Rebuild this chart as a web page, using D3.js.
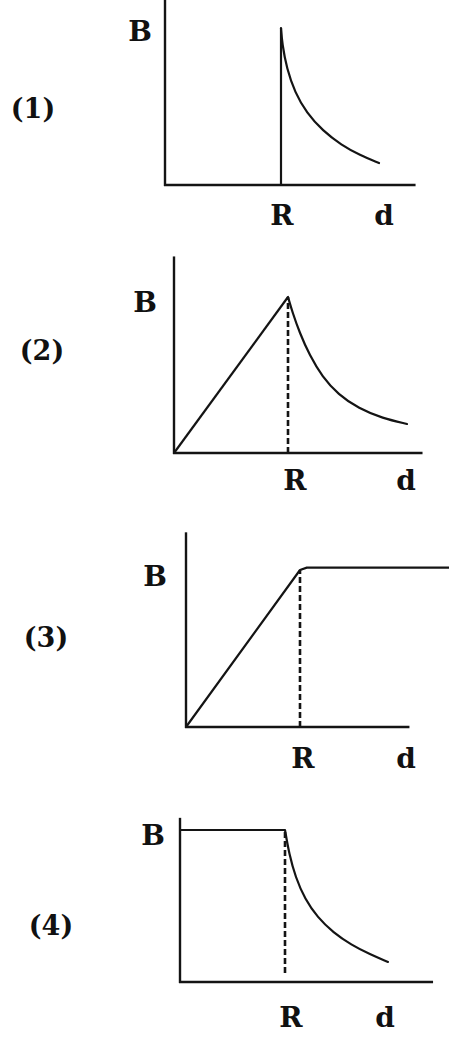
<!DOCTYPE html>
<html>
<head>
<meta charset="utf-8">
<script src="https://cdn.jsdelivr.net/npm/d3@7"></script>
<style>
  html, body { margin: 0; padding: 0; background: #fff; }
  svg { display: block; }
  text { font-family: "DejaVu Serif", "Liberation Serif", serif; font-weight: bold; fill: #111; }
</style>
</head>
<body>
<svg id="chart" width="449" height="1041"></svg>
<script>
// ---- data (d in units of R, B in units of the peak field) ----
const panelLabels = ["(1)", "(2)", "(3)", "(4)"];
const axisLabelY = "B";
const tickLabelR = "R";
const axisLabelX = "d";

// panel 1: zero inside, jump at R, decreasing outside
const p1Curve = [[1,1.0],[1.01,0.90],[1.05,0.74],[1.12,0.59],[1.22,0.46],[1.36,0.345],[1.52,0.255],[1.68,0.19],[1.845,0.140]];
const p1Jump = [[1,0],[1,1]];

// panel 2: linear rise, then decay
const p2Rise = [[0,0],[1,1]];
const p2Curve = [[1,1.0],[1.04,0.90],[1.10,0.775],[1.19,0.625],[1.30,0.49],[1.44,0.375],[1.62,0.285],[1.83,0.222],[2.044,0.186]];
const p2Guide = [[1,0],[1,1]];

// panel 3: linear rise, then constant
const p3Line = [[0,0],[1,1],[1.06,1.015],[2.4,1.015]];
const p3Guide = [[1,0],[1,1]];

// panel 4: constant inside, decay outside
const p4Flat = [[0,1],[1,1]];
const p4Curve = [[1,1.0],[1.04,0.84],[1.10,0.69],[1.19,0.545],[1.31,0.425],[1.46,0.325],[1.63,0.245],[1.81,0.182],[1.981,0.132]];
const p4Guide = [[1,0.06],[1,1]];

// ---- layout (pixels) ----
const layouts = [
  { ox:165, oy:185, pxR:116, pyB:157, xEnd:2.16, yTop:1.18,
    num:[33,108], bLab:[140,31], rDx:1, lab:[215], dX:384 },
  { ox:174, oy:453, pxR:114, pyB:156, xEnd:2.18, yTop:1.26,
    num:[42,350], bLab:[145,302], rDx:7, lab:[480], dX:406 },
  { ox:186, oy:727, pxR:114, pyB:157, xEnd:1.96, yTop:1.24,
    num:[46,637], bLab:[155,576], rDx:3, lab:[758], dX:406 },
  { ox:180, oy:982, pxR:105, pyB:152, xEnd:2.41, yTop:1.08,
    num:[51,925], bLab:[153,835], rDx:6, lab:[1017], dX:385 }
];

const panels = [
  { solid:[p1Jump], curves:[p1Curve], dashed:[] },
  { solid:[p2Rise], curves:[p2Curve], dashed:[p2Guide] },
  { solid:[p3Line], curves:[], dashed:[p3Guide] },
  { solid:[p4Flat], curves:[p4Curve], dashed:[p4Guide] }
];

const svg = d3.select("#chart");
const ink = "#141414";

panels.forEach((p, i) => {
  const L = layouts[i];
  const x = d3.scaleLinear().domain([0, 1]).range([L.ox, L.ox + L.pxR]);
  const y = d3.scaleLinear().domain([0, 1]).range([L.oy, L.oy - L.pyB]);
  const g = svg.append("g");

  const straight = d3.line().x(d => x(d[0])).y(d => y(d[1]));
  const smooth = d3.line().x(d => x(d[0])).y(d => y(d[1])).curve(d3.curveBasis);

  // axes
  g.append("line").attr("x1", x(0)).attr("x2", x(0))
    .attr("y1", y(0) + 1).attr("y2", y(L.yTop))
    .attr("stroke", ink).attr("stroke-width", 2.4);
  g.append("line").attr("x1", x(0) - 1).attr("x2", x(L.xEnd))
    .attr("y1", y(0)).attr("y2", y(0))
    .attr("stroke", ink).attr("stroke-width", 2.6);

  p.solid.forEach(s => g.append("path").attr("d", straight(s))
    .attr("fill", "none").attr("stroke", ink).attr("stroke-width", 2.2)
    .attr("stroke-linejoin", "round"));
  p.curves.forEach(s => g.append("path").attr("d", smooth(s))
    .attr("fill", "none").attr("stroke", ink).attr("stroke-width", 2.2)
    .attr("stroke-linecap", "round"));
  p.dashed.forEach(s => g.append("path").attr("d", straight(s))
    .attr("fill", "none").attr("stroke", ink).attr("stroke-width", 2.6)
    .attr("stroke-dasharray", "6,3"));

  // labels
  g.append("text").attr("x", L.num[0]).attr("y", L.num[1])
    .attr("text-anchor", "middle").attr("dominant-baseline", "central")
    .attr("font-size", 27).text(panelLabels[i]);
  g.append("text").attr("x", L.bLab[0]).attr("y", L.bLab[1])
    .attr("text-anchor", "middle").attr("dominant-baseline", "central")
    .attr("font-size", 28).text(axisLabelY);
  g.append("text").attr("x", x(1) + L.rDx).attr("y", L.lab[0])
    .attr("text-anchor", "middle").attr("dominant-baseline", "central")
    .attr("font-size", 28).text(tickLabelR);
  g.append("text").attr("x", L.dX).attr("y", L.lab[0])
    .attr("text-anchor", "middle").attr("dominant-baseline", "central")
    .attr("font-size", 28).text(axisLabelX);
});
</script>
</body>
</html>
